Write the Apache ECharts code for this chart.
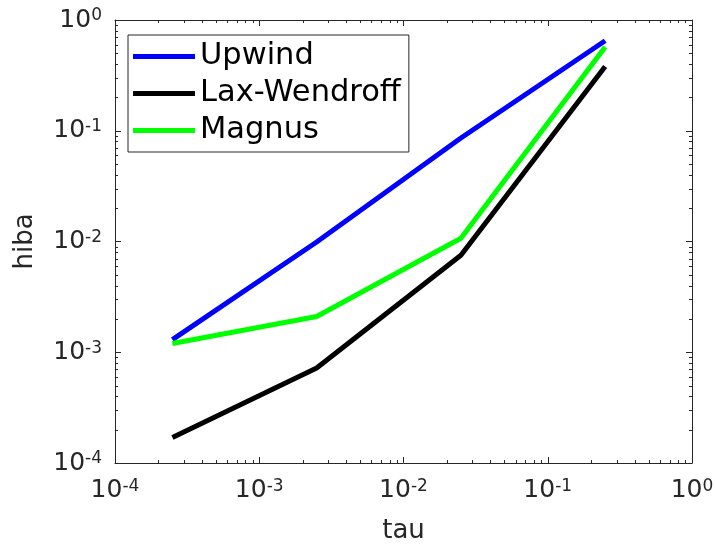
<!DOCTYPE html>
<html>
<head>
<meta charset="utf-8">
<script src="https://cdn.jsdelivr.net/npm/echarts@6/dist/echarts.min.js"></script>
<style>
  html, body { margin: 0; padding: 0; background: #fff; }
  #chart { width: 715px; height: 545px; }
</style>
</head>
<body>
<div id="chart"></div>
<script>
// Step size and error of the three schemes
const tauValues = [2.5e-4, 2.5e-3, 2.5e-2, 2.5e-1];
const upwind = [1.3e-3, 9.9e-3, 0.086, 0.65];
const laxWendroff = [1.7e-4, 7.2e-4, 7.5e-3, 0.38];
const magnus = [1.2e-3, 2.1e-3, 0.0107, 0.57];
const seriesNames = ['Upwind', 'Lax-Wendroff', 'Magnus'];

// Decades shown on both log axes and the minor tick mantissas inside each decade
const decadeExponents = [-4, -3, -2, -1, 0];
const minorMantissas = [2, 3, 4, 5, 6, 7, 8, 9];

const axisMin = Math.pow(10, decadeExponents[0]);
const axisMax = Math.pow(10, decadeExponents[decadeExponents.length - 1]);
const inkColor = '#262626';
const font = 'DejaVu Sans';

const minorValues = [];
for (let i = 0; i < decadeExponents.length - 1; i++) {
  for (const m of minorMantissas) minorValues.push(m * Math.pow(10, decadeExponents[i]));
}

const pairs = vals => tauValues.map((t, i) => [t, vals[i]]);

const powerLabel = {
  formatter: v => '{b|10}{s|' + Math.round(Math.log10(v)) + '}',
  rich: {
    b: { fontSize: 25, lineHeight: 25, color: inkColor, fontFamily: font, verticalAlign: 'bottom' },
    s: { fontSize: 17, lineHeight: 17, color: inkColor, fontFamily: font, verticalAlign: 'top', padding: [0, 0, 12, 0] }
  }
};

function logAxis(extra) {
  return Object.assign({
    type: 'log',
    logBase: 10,
    min: axisMin,
    max: axisMax,
    splitNumber: 4,
    axisLine: { show: true, onZero: false, lineStyle: { color: inkColor, width: 1 } },
    axisTick: { show: true, inside: true, length: 6, lineStyle: { color: inkColor, width: 1 } },
    splitLine: { show: false },
    minorTick: { show: false }
  }, extra);
}

const minorLen = 3;
function tickLine(x1, y1, x2, y2) {
  return { type: 'line', shape: { x1, y1, x2, y2 }, style: { stroke: inkColor, lineWidth: 1 }, silent: true };
}

const chart = echarts.init(document.getElementById('chart'), null, { renderer: 'canvas' });
chart.setOption({
  animation: false,
  backgroundColor: '#fff',
  grid: { left: 115, right: 23, top: 20, bottom: 82, containLabel: false, outerBoundsMode: 'none' },
  legend: {
    data: seriesNames,
    orient: 'vertical',
    left: 128,
    top: 35,
    padding: [3, 8, 3, 5],
    itemGap: 0,
    itemWidth: 62,
    itemHeight: 5,
    icon: 'rect',
    selectedMode: false,
    borderColor: inkColor,
    borderWidth: 1,
    backgroundColor: '#fff',
    textStyle: { fontSize: 30.5, lineHeight: 37, color: '#000', fontFamily: font }
  },
  xAxis: [
    logAxis({
      position: 'bottom',
      name: 'tau',
      nameLocation: 'middle',
      nameGap: 55,
      nameTextStyle: { fontSize: 26, color: inkColor, fontFamily: font },
      axisLabel: Object.assign({ margin: 15, showMinLabel: true, showMaxLabel: true, hideOverlap: false }, powerLabel)
    }),
    logAxis({ position: 'top', axisLabel: { show: false } })
  ],
  yAxis: [
    logAxis({
      position: 'left',
      name: 'hiba',
      nameLocation: 'middle',
      nameGap: 77,
      nameRotate: 90,
      nameTextStyle: { fontSize: 26, color: inkColor, fontFamily: font },
      axisLabel: Object.assign({ margin: 13, showMinLabel: true, showMaxLabel: true, hideOverlap: false }, powerLabel)
    }),
    logAxis({ position: 'right', axisLabel: { show: false } })
  ],
  series: [
    {
      type: 'custom',
      silent: true,
      clip: false,
      xAxisIndex: 0, yAxisIndex: 0,
      data: minorValues.map(v => [v, axisMin]),
      renderItem: (params, api) => {
        const v = api.value(0);
        const b = api.coord([v, axisMin]);
        const t = api.coord([v, axisMax]);
        const x = Math.round(b[0]) + 0.5;
        return { type: 'group', children: [
          tickLine(x, b[1], x, b[1] - minorLen),
          tickLine(x, t[1], x, t[1] + minorLen)
        ] };
      }
    },
    {
      type: 'custom',
      silent: true,
      clip: false,
      xAxisIndex: 0, yAxisIndex: 0,
      data: minorValues.map(v => [axisMin, v]),
      renderItem: (params, api) => {
        const v = api.value(1);
        const l = api.coord([axisMin, v]);
        const r = api.coord([axisMax, v]);
        const y = Math.round(l[1]) + 0.5;
        return { type: 'group', children: [
          tickLine(l[0], y, l[0] + minorLen, y),
          tickLine(r[0], y, r[0] - minorLen, y)
        ] };
      }
    },
    { name: seriesNames[0], type: 'line', data: pairs(upwind), symbol: 'none', color: '#0000ff', lineStyle: { width: 5, color: '#0000ff' } },
    { name: seriesNames[1], type: 'line', data: pairs(laxWendroff), symbol: 'none', color: '#000000', lineStyle: { width: 5, color: '#000000' } },
    { name: seriesNames[2], type: 'line', data: pairs(magnus), symbol: 'none', color: '#00ff00', lineStyle: { width: 5, color: '#00ff00' } }
  ]
});
</script>
</body>
</html>
